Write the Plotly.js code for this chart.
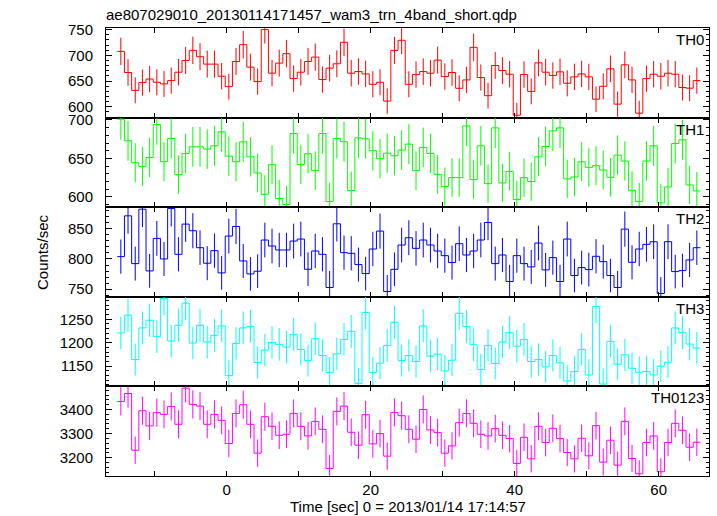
<!DOCTYPE html>
<html>
<head>
<meta charset="utf-8">
<script src="https://cdn.plot.ly/plotly-3.0.1.min.js"></script>
<style>html,body{margin:0;padding:0;background:#fff;}#chart{width:717px;height:516px;}</style>
</head>
<body>
<div id="chart"></div>
<script>
// Time bins: 1 s bins, first bin centre at -14.7 s
const firstBinCentre = -14.7;
const binWidth = 1.0;

const panelNames = ["TH0", "TH1", "TH2", "TH3", "TH0123"];
const panelColors = ["#ff0000", "#00ff00", "#0000ff", "#00ffff", "#ff00ff"];

const th0 = [707.8, 666.7, 632, 647, 654, 647.7, 644.4, 651, 667.3, 690.2,
  709.8, 697.4, 683, 683, 659.5, 639.2, 688.2, 720.9, 677.1, 649,
  750.3, 665.4, 685, 703.3, 654.9, 667.3, 688.2, 696.7, 653, 675.2,
  683.7, 725.5, 665.4, 668.6, 664, 643.8, 647.7, 611.1, 709.8, 729.4,
  643.8, 662.7, 668.6, 665.4, 690.8, 658.8, 666.7, 636, 652.3, 715.7,
  656.9, 621.6, 680.4, 670.6, 663.4, 583.7, 662.7, 630, 685.6, 667.3,
  660.8, 668, 645.7, 658.2, 664, 658.2, 614.8, 639.9, 673.9, 605.2,
  681.7, 652.3, 587.6, 654.9, 663.4, 659.5, 665.4, 663.4, 637.5, 636.2,
  651];

const th1 = [700.9, 672.9, 644.4, 639.7, 651.3, 694, 645.7, 675.9, 628.9, 656.5,
  665.1, 665.1, 662.1, 666.4, 684.5, 653, 645.7, 671.6, 652.2, 631.1,
  603.5, 641.9, 597.9, 590.2, 682.3, 641.9, 656.1, 634.1, 682.3, 594,
  675.9, 671.6, 608.3, 676.7, 675.5, 660, 649.6, 656.9, 653.5, 660.8,
  668.6, 634.1, 664.3, 656.5, 629.4, 613.4, 625.1, 625.1, 692.2, 622.5,
  666.4, 617.3, 689.7, 618.2, 633.2, 596.6, 625.1, 619.9, 652.2, 665.5,
  685.8, 689.7, 623.4, 625.9, 645.7, 638.4, 640.6, 635, 625.5, 654.3,
  646.6, 608.7, 594, 646.6, 666.4, 592.3, 613, 669.4, 674.2, 615.6,
  607.8];

const th2 = [803.9, 871.5, 792.3, 882.5, 780.2, 834.1, 800, 883.6, 807.7, 857.8,
  846.8, 818.7, 792.9, 813.8, 776.9, 838, 853.9, 796.7, 775.3, 779.7,
  831.4, 821.5, 814.9, 814.9, 829.7, 833, 782.9, 813.2, 807.7, 752.7,
  858.3, 810.5, 809.4, 790.7, 775.8, 816.5, 846.2, 746.1, 782.9, 823.1,
  835.2, 817.6, 831.4, 823.1, 813.2, 805.5, 794, 825.3, 806.6, 813.2,
  831.4, 860.5, 792.3, 806.6, 762.6, 805.5, 792.3, 786.8, 826.4, 781.9,
  802.2, 762.6, 833, 772.5, 785.7, 782.4, 804.4, 795.6, 772.5, 752.7,
  849.5, 794.5, 816.5, 824.2, 828.6, 742.8, 828.6, 779.1, 780.8, 798.4,
  818.7];

const th3 = [1220.7, 1258.7, 1164.2, 1231.5, 1247.9, 1212.9, 1294.4, 1203.6, 1237.2, 1284.4,
  1199.3, 1237.2, 1201.4, 1215.7, 1235.8, 1129.9, 1198.6, 1231.5, 1235, 1157.8,
  1184.3, 1200.7, 1196.4, 1190.7, 1217.9, 1185.7, 1162.1, 1208.6, 1172.8, 1136.3,
  1176.4, 1207.2, 1224.3, 1113.4, 1264.4, 1136.3, 1156.4, 1194.3, 1243.6, 1162.1,
  1172.8, 1159.9, 1235.8, 1171.4, 1175.7, 1139.9, 1162.8, 1262.9, 1234.3, 1195.7,
  1142.8, 1194.3, 1155.7, 1201.4, 1221.5, 1192.8, 1207.2, 1159.9, 1164.2, 1148.5,
  1172.8, 1157.1, 1118.5, 1138.5, 1185.7, 1131.3, 1277.3, 1112, 1202.9, 1154.2,
  1174.2, 1145.6, 1137.1, 1138.5, 1131.3, 1149.9, 1158.5, 1231.5, 1221.5, 1197.1,
  1188.6];

const th0123 = [3433.6, 3466.6, 3231.2, 3395, 3331.7, 3386.8, 3379.9, 3412.9, 3338.6, 3488.6,
  3421.2, 3414.3, 3338.6, 3379.9, 3355.1, 3258.7, 3384, 3419.8, 3338.6, 3218.8,
  3370.2, 3330.3, 3293.1, 3297.2, 3384, 3330.3, 3290.4, 3350.9, 3317.9, 3155.4,
  3392.3, 3414.3, 3305.5, 3251.8, 3378.5, 3257.3, 3300, 3206.4, 3388.1, 3374.4,
  3317.9, 3276.6, 3400.5, 3315.1, 3304.1, 3218.8, 3249, 3345.4, 3384, 3342.7,
  3297.2, 3290.4, 3320.7, 3293.1, 3279.3, 3176.1, 3284.9, 3195.3, 3330.3, 3262.8,
  3322, 3279.3, 3221.5, 3195.3, 3280.7, 3207.7, 3333, 3181.6, 3272.5, 3169.2,
  3350.9, 3196.7, 3133.4, 3262.8, 3290.4, 3141.6, 3262.8, 3342.7, 3313.8, 3243.5,
  3264.2];

const series = [th0, th1, th2, th3, th0123];

// Axis settings per panel
const yRanges = [[579, 753.3], [586.7, 703], [737.3, 885.8], [1107, 1297.8], [3124, 3496]];
const yMajor = [50, 50, 50, 50, 100];
const yMinor = [10, 10, 10, 10, 20];
const xRange = [-16.76, 66.99];

const titleText = "ae807029010_20130114171457_wam3_trn_4band_short.qdp";
const xTitleText = "Time [sec] 0 = 2013/01/14 17:14:57";
const yTitleText = "Counts/sec";

const FONT = "Liberation Sans, Arial, Helvetica, sans-serif";
const nPanels = series.length;
const traces = [];
const layout = {
  width: 717, height: 516,
  margin: {l: 106, r: 8, t: 28, b: 40},
  paper_bgcolor: "#ffffff", plot_bgcolor: "#ffffff",
  showlegend: false, hovermode: false,
  font: {family: FONT, size: 15, color: "#000"},
  annotations: []
};

for (let i = 0; i < nPanels; i++) {
  const vals = series[i];
  const n = vals.length;
  const centres = vals.map((_, k) => firstBinCentre + k * binWidth);
  const edges = vals.map((_, k) => firstBinCentre - binWidth / 2 + k * binWidth);
  edges.push(firstBinCentre - binWidth / 2 + n * binWidth);
  const stepY = vals.concat([vals[n - 1]]);
  const ax = i === 0 ? "" : String(i + 1);
  const xa = "x" + ax, ya = "y" + ax;
  traces.push({
    type: "scatter", mode: "lines", x: edges, y: stepY, xaxis: xa, yaxis: ya,
    line: {shape: "hv", color: panelColors[i], width: 1}
  });
  traces.push({
    type: "scatter", mode: "markers", x: centres, y: vals, xaxis: xa, yaxis: ya,
    marker: {size: 1, color: panelColors[i], opacity: 0},
    error_y: {type: "sqrt", visible: true, color: panelColors[i], thickness: 1, width: 0}
  });
  const top = 1 - i / nPanels, bot = 1 - (i + 1) / nPanels;
  const isBottom = i === nPanels - 1;
  layout["xaxis" + ax] = {
    domain: [0, 1], anchor: ya, range: xRange, matches: i === 0 ? undefined : "x",
    showline: true, linecolor: "#000", linewidth: 1, mirror: "ticks",
    ticks: "inside", ticklen: 5, tickcolor: "#000", tickwidth: 1,
    dtick: 20, tick0: 0, showgrid: false, zeroline: false,
    showticklabels: isBottom, ticklabelstandoff: 0,
    tickfont: {family: FONT, size: 15, color: "#000"},
    minor: {dtick: 10, tick0: 0, ticks: "inside", ticklen: 5, tickcolor: "#000", tickwidth: 1, showgrid: false}
  };
  layout["yaxis" + ax] = {
    domain: [bot, top], anchor: xa, range: yRanges[i],
    showline: true, linecolor: "#000", linewidth: 1, mirror: "ticks",
    ticks: "inside", ticklen: 6, tickcolor: "#000", tickwidth: 1,
    dtick: yMajor[i], tick0: 0, showgrid: false, zeroline: false,
    ticklabelstandoff: 9,
    tickfont: {family: FONT, size: 15, color: "#000"},
    minor: {dtick: yMinor[i], tick0: 0, ticks: "inside", ticklen: 3, tickcolor: "#000", tickwidth: 1, showgrid: false}
  };
  layout.annotations.push({
    xref: "paper", yref: "paper", x: 1, y: top, xanchor: "right", yanchor: "top",
    xshift: -3, yshift: -1, showarrow: false, text: panelNames[i],
    font: {family: FONT, size: 15, color: "#000"}
  });
}

layout.annotations.push({
  xref: "paper", yref: "paper", x: 0, y: 1, xanchor: "left", yanchor: "bottom",
  xshift: -2, yshift: 3, showarrow: false, text: titleText,
  font: {family: FONT, size: 15, color: "#000"}
});
layout.annotations.push({
  xref: "paper", yref: "paper", x: 0.5, y: 0, xanchor: "center", yanchor: "middle",
  yshift: -30, borderpad: 0, showarrow: false, text: xTitleText,
  font: {family: FONT, size: 15, color: "#000"}
});
layout.annotations.push({
  xref: "paper", yref: "paper", x: 0, y: 0.5, xanchor: "center", yanchor: "middle",
  xshift: -64, textangle: -90, showarrow: false, text: yTitleText,
  font: {family: FONT, size: 15, color: "#000"}
});

Plotly.newPlot("chart", traces, layout, {displayModeBar: false, staticPlot: true});
</script>
</body>
</html>
